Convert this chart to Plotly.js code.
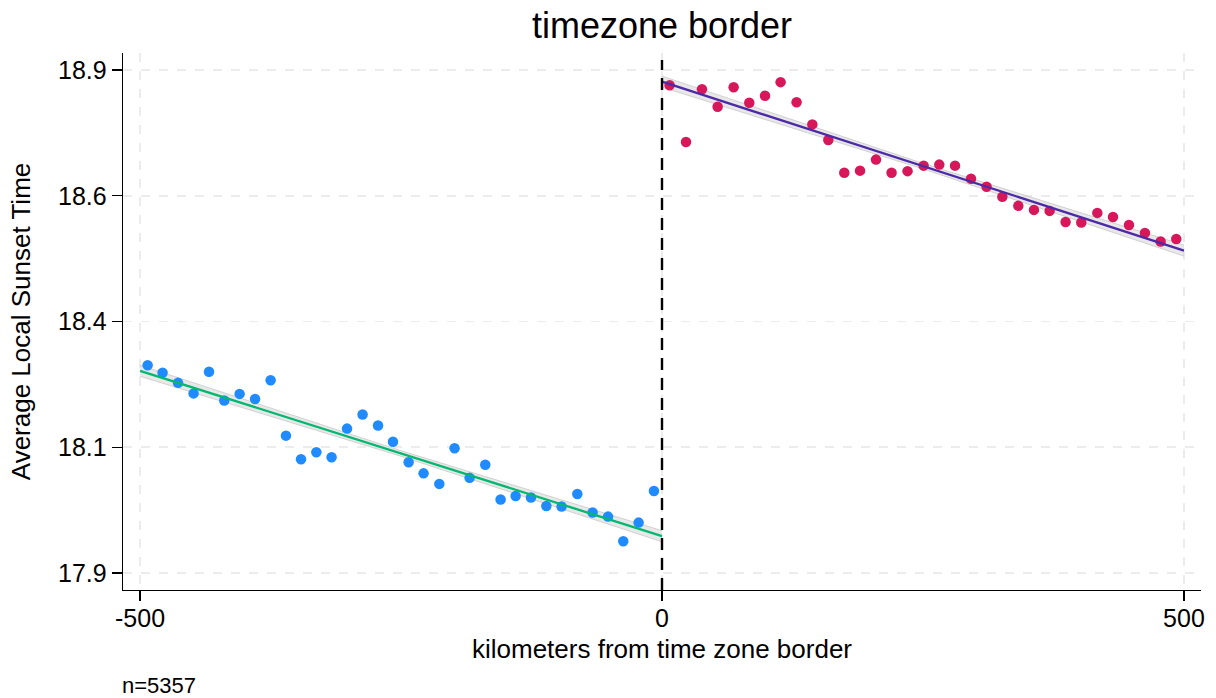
<!DOCTYPE html>
<html>
<head>
<meta charset="utf-8">
<script src="https://cdn.plot.ly/plotly-3.0.1.min.js"></script>
<style>
html,body{margin:0;padding:0;background:#fff;}
#chart{width:1216px;height:698px;}
</style>
</head>
<body>
<div id="chart"></div>
<script>
// Binned scatter, west side of border (km, average local sunset time)
const leftX = [-492.7,-478.4,-463.6,-448.7,-433.9,-419.3,-404.6,-389.8,-374.9,-360.2,-345.8,-331.1,-316.5,-301.7,-286.8,-272.0,-257.7,-242.7,-228.4,-213.3,-198.7,-184.3,-169.3,-154.6,-140.2,-125.5,-110.8,-96.2,-81.1,-66.5,-51.7,-37.1,-22.4,-7.7];
const leftY = [18.313,18.298,18.278,18.257,18.300,18.243,18.256,18.246,18.283,18.173,18.126,18.140,18.130,18.187,18.215,18.193,18.161,18.120,18.098,18.077,18.148,18.089,18.115,18.046,18.053,18.050,18.033,18.032,18.057,18.020,18.012,17.963,18.000,18.063];

// Binned scatter, east side of border
const rightX = [7.3,23.0,38.3,53.3,68.6,83.6,98.7,113.6,128.9,144.0,159.3,174.6,189.7,205.0,219.9,235.2,250.6,265.6,280.7,296.0,310.9,326.0,341.3,356.3,371.3,386.6,401.6,417.0,432.0,447.3,462.6,477.6,492.6];
const rightY = [18.870,18.757,18.862,18.827,18.866,18.835,18.849,18.876,18.836,18.792,18.761,18.696,18.700,18.722,18.696,18.699,18.710,18.712,18.710,18.684,18.668,18.648,18.630,18.622,18.620,18.598,18.597,18.616,18.608,18.592,18.576,18.559,18.564];

// Linear fits with confidence bands
const leftFitX = [-500, -250, 0];
const leftFitY = [18.302, 18.1375, 17.973];
const leftFitLo = [18.291, 18.1320, 17.962];
const leftFitHi = [18.313, 18.1430, 17.984];

const rightFitX = [0, 250, 500];
const rightFitY = [18.877, 18.709, 18.541];
const rightFitLo = [18.866, 18.7035, 18.530];
const rightFitHi = [18.888, 18.7145, 18.552];

// Axis ticks
const xTickVals = [-500, 0, 500];
const xTickText = ["-500", "0", "500"];
const yTickVals = [17.9, 18.15, 18.4, 18.65, 18.9];
const yTickText = ["17.9", "18.1", "18.4", "18.6", "18.9"];

const bandFill = 'rgba(210,210,210,0.5)';
const bandLine = 'rgba(205,205,205,0.9)';

function band(x, lo, hi) {
  return [
    {x: x, y: lo, mode: 'lines', line: {color: bandLine, width: 1}, hoverinfo: 'skip', showlegend: false},
    {x: x, y: hi, mode: 'lines', fill: 'tonexty', fillcolor: bandFill, line: {color: bandLine, width: 1}, hoverinfo: 'skip', showlegend: false}
  ];
}

const data = [
  ...band(leftFitX, leftFitLo, leftFitHi),
  ...band(rightFitX, rightFitLo, rightFitHi),
  {x: leftX, y: leftY, mode: 'markers', type: 'scatter', marker: {color: '#1f8bff', size: 10.5}, showlegend: false},
  {x: rightX, y: rightY, mode: 'markers', type: 'scatter', marker: {color: '#d6185a', size: 10.5}, showlegend: false},
  {x: leftFitX, y: leftFitY, mode: 'lines', line: {color: '#00b870', width: 2.3}, showlegend: false},
  {x: rightFitX, y: rightFitY, mode: 'lines', line: {color: '#4b2aa8', width: 2.3}, showlegend: false}
];

const font = "Liberation Sans, Arial, sans-serif";

const layout = {
  width: 1216, height: 698,
  margin: {l: 123, r: 15, t: 53, b: 108},
  paper_bgcolor: '#ffffff', plot_bgcolor: '#ffffff',
  font: {family: font, color: '#000'},
  showlegend: false,
  title: {text: 'timezone border', font: {size: 36, color: '#000', family: font}, x: 0.5, xref: 'paper', y: 1 - 25/698, yref: 'container', yanchor: 'middle'},
  xaxis: {
    range: [-516.3, 516.3],
    tickvals: xTickVals, ticktext: xTickText,
    ticks: 'outside', ticklen: 10, tickwidth: 1.3, tickcolor: '#000',
    ticklabelstandoff: -4,
    showline: true, linecolor: '#000', linewidth: 1.3,
    showgrid: true, gridcolor: '#ececec', gridwidth: 1.5, griddash: 'dash',
    zeroline: false,
    tickfont: {size: 25, color: '#000'},
    title: {text: 'kilometers from time zone border', font: {size: 26, color: '#000'}, standoff: 8}
  },
  yaxis: {
    range: [17.866, 18.934],
    tickvals: yTickVals, ticktext: yTickText,
    ticks: 'outside', ticklen: 10, tickwidth: 1.3, tickcolor: '#000',
    showline: true, linecolor: '#000', linewidth: 1.3,
    showgrid: true, gridcolor: '#ececec', gridwidth: 1.5, griddash: 'dash',
    zeroline: false,
    tickfont: {size: 25, color: '#000'},
    title: {text: 'Average Local Sunset Time', font: {size: 26, color: '#000'}, standoff: 20}
  },
  shapes: [
    {type: 'line', xref: 'x', yref: 'paper', x0: 0, x1: 0, y0: 0, y1: 0.987,
     line: {color: '#000', width: 2.4, dash: '12px,8px'}}
  ],
  annotations: [
    {text: 'n=5357', xref: 'paper', yref: 'paper', x: -0.003, y: -0.177, xanchor: 'left', yanchor: 'middle',
     showarrow: false, font: {size: 22, color: '#000'}}
  ]
};

Plotly.newPlot('chart', data, layout, {displayModeBar: false, staticPlot: true});
</script>
</body>
</html>
